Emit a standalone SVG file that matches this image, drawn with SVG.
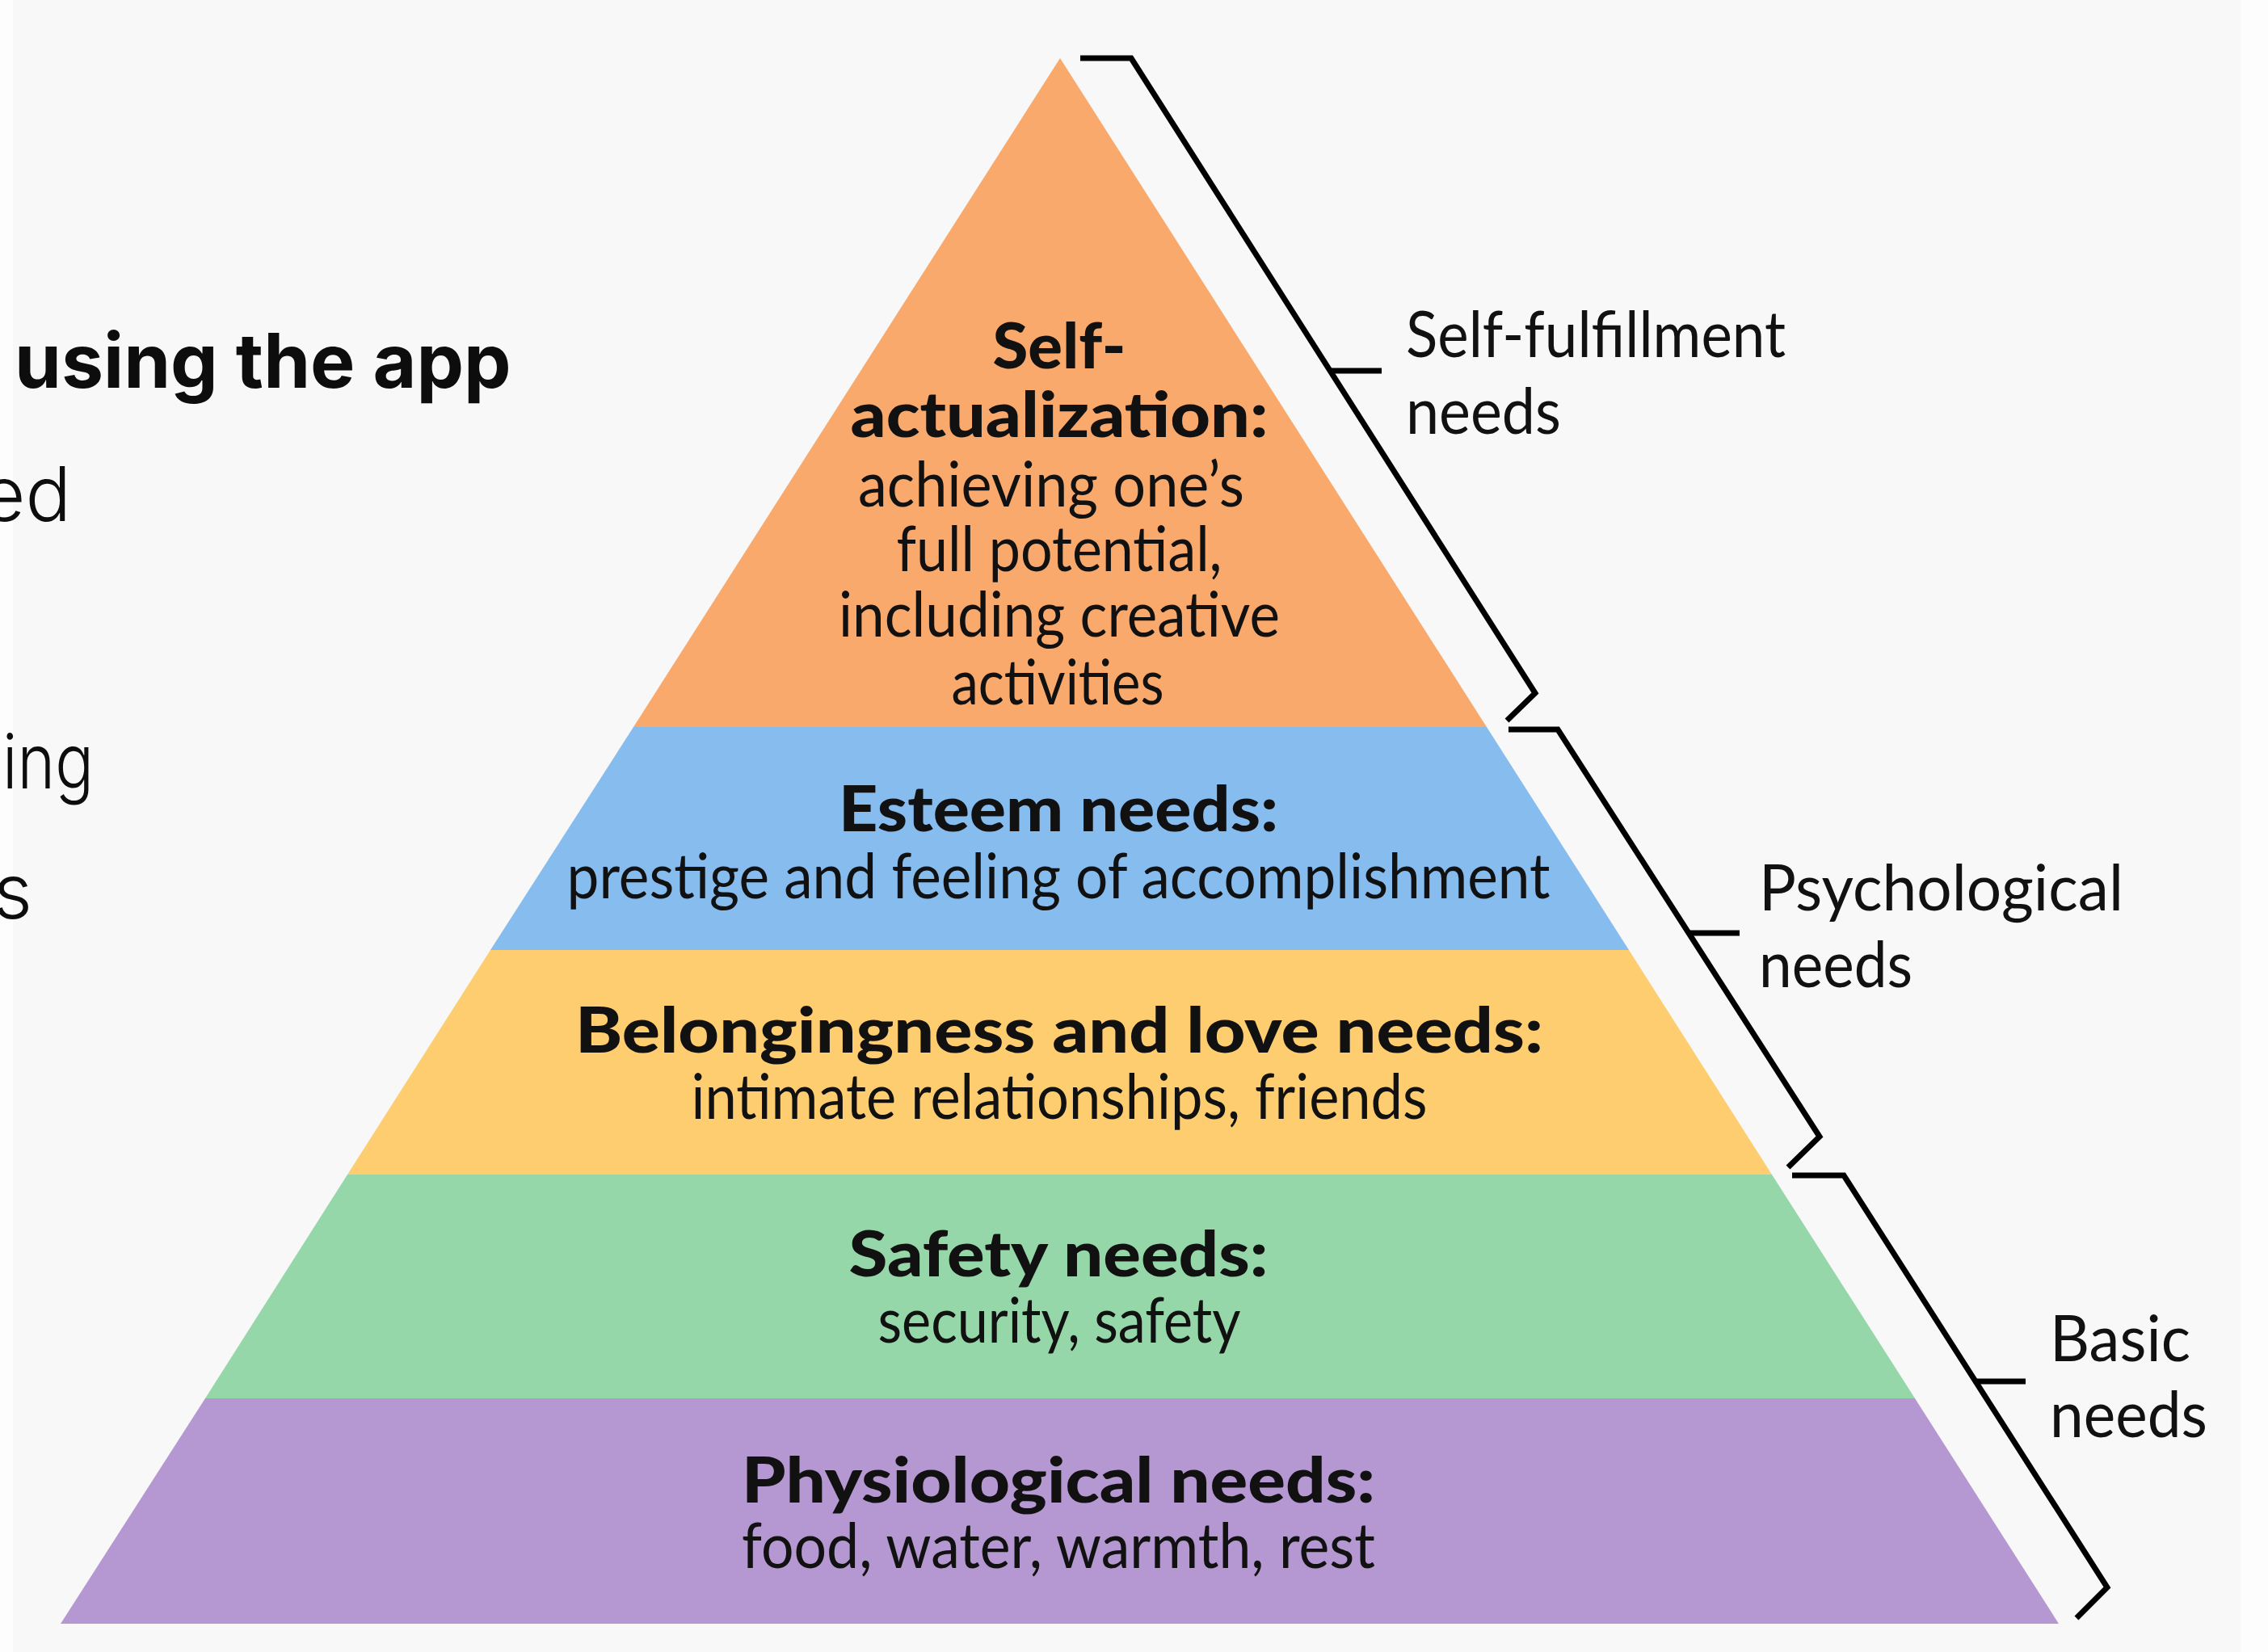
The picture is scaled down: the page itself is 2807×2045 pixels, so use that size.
<svg xmlns="http://www.w3.org/2000/svg" width="2807" height="2045" viewBox="0 0 2807 2045">
  <style>
    .slide { font-family: Inter, "Liberation Sans", sans-serif; fill: #0d0d0d; }
    .head { font-weight: 700; font-size: 93px; }
    .thin { font-weight: 300; font-size: 94px; }
    .lbl { font-family: Lato, "Liberation Sans", sans-serif; fill: #111; text-anchor: middle; }
    .b { font-weight: 900; font-size: 78px; }
    .r { font-weight: 400; font-size: 78px; }
    .side { font-family: Lato, "Liberation Sans", sans-serif; fill: #111; font-weight: 400; font-size: 80px; }
    .brace { fill: none; stroke: #000; stroke-width: 7; stroke-linejoin: miter; stroke-linecap: butt; }
  </style>

  <!-- page -->
  <rect x="0" y="0" width="2807" height="2045" fill="#fdfdfd"/>
  <rect x="16" y="0" width="2757" height="2045" fill="#f8f8f8"/>

  <!-- slide text cut off at the left edge -->
  <g id="slide-text" class="slide">
    <text class="head" x="18" y="480">using the app</text>
    <text class="thin" x="88" y="645" text-anchor="end">ed</text>
    <text class="thin" x="3" y="976" textLength="113" lengthAdjust="spacingAndGlyphs">ing</text>
    <text class="thin" x="40" y="1137" text-anchor="end">s</text>
  </g>

  <!-- pyramid levels, top to bottom -->
  <g id="self-actualization">
    <polygon points="1312,72 1840,900 784,900" fill="#f9a96c"/>
    <text class="lbl b" x="1311" y="456" textLength="165" lengthAdjust="spacingAndGlyphs">Self-</text>
    <text class="lbl b" x="1311" y="541" textLength="517" lengthAdjust="spacingAndGlyphs">actualization:</text>
    <text class="lbl r" x="1301" y="627" textLength="478" lengthAdjust="spacingAndGlyphs">achieving one’s</text>
    <text class="lbl r" x="1311" y="707" textLength="403" lengthAdjust="spacingAndGlyphs">full potential,</text>
    <text class="lbl r" x="1311" y="788" textLength="546" lengthAdjust="spacingAndGlyphs">including creative</text>
    <text class="lbl r" x="1309" y="872" textLength="263" lengthAdjust="spacingAndGlyphs">activities</text>
  </g>

  <g id="esteem">
    <polygon points="784,900 1840,900 2016,1176 607,1176" fill="#87bcef"/>
    <text class="lbl b" x="1310" y="1029" textLength="544" lengthAdjust="spacingAndGlyphs">Esteem needs:</text>
    <text class="lbl r" x="1310" y="1112" textLength="1217" lengthAdjust="spacingAndGlyphs">prestige and feeling of accomplishment</text>
  </g>

  <g id="belongingness">
    <polygon points="607,1176 2016,1176 2193,1454 430,1454" fill="#fdcd6f"/>
    <text class="lbl b" x="1311" y="1303" textLength="1198" lengthAdjust="spacingAndGlyphs">Belongingness and love needs:</text>
    <text class="lbl r" x="1311" y="1385" textLength="911" lengthAdjust="spacingAndGlyphs">intimate relationships, friends</text>
  </g>

  <g id="safety">
    <polygon points="430,1454 2193,1454 2370,1731 254,1731" fill="#96d7a9"/>
    <text class="lbl b" x="1310" y="1580" textLength="519" lengthAdjust="spacingAndGlyphs">Safety needs:</text>
    <text class="lbl r" x="1311" y="1662" textLength="449" lengthAdjust="spacingAndGlyphs">security, safety</text>
  </g>

  <g id="physiological">
    <polygon points="254,1731 2370,1731 2548,2010 75,2010" fill="#b597d1"/>
    <text class="lbl b" x="1310" y="1860" textLength="784" lengthAdjust="spacingAndGlyphs">Physiological needs:</text>
    <text class="lbl r" x="1310" y="1941" textLength="784" lengthAdjust="spacingAndGlyphs">food, water, warmth, rest</text>
  </g>

  <!-- group braces along the right side -->
  <g id="connectors">
    <path class="brace" d="M1337,72 H1400 L1900,858 L1865,892"/>
    <path class="brace" d="M1646,459 H1710"/>
    <path class="brace" d="M1867,903 H1928 L2252,1407 L2213,1445"/>
    <path class="brace" d="M2091,1155 H2153"/>
    <path class="brace" d="M2218,1455 H2282 L2608,1965 L2570,2003"/>
    <path class="brace" d="M2445,1710 H2507"/>
  </g>

  <g id="group-self-fulfillment" class="side">
    <text x="1740" y="442" textLength="470" lengthAdjust="spacingAndGlyphs">Self-fulfillment</text>
    <text x="1740" y="537" textLength="192" lengthAdjust="spacingAndGlyphs">needs</text>
  </g>
  <g id="group-psychological" class="side">
    <text x="2177" y="1127" textLength="451" lengthAdjust="spacingAndGlyphs">Psychological</text>
    <text x="2177" y="1222" textLength="190" lengthAdjust="spacingAndGlyphs">needs</text>
  </g>
  <g id="group-basic" class="side">
    <text x="2537" y="1685" textLength="174" lengthAdjust="spacingAndGlyphs">Basic</text>
    <text x="2537" y="1779" textLength="195" lengthAdjust="spacingAndGlyphs">needs</text>
  </g>
</svg>
